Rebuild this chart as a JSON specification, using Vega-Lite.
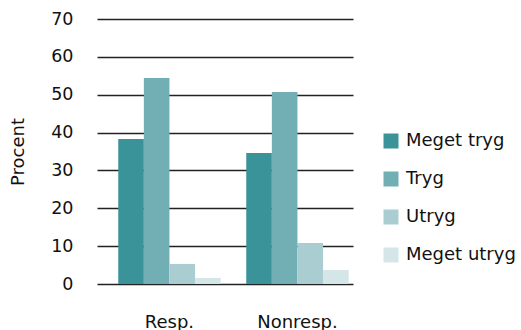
{
  "$schema": "https://vega.github.io/schema/vega-lite/v6.json",
  "width": 256,
  "height": 265,
  "autosize": {"type": "none"},
  "padding": {"left": 97, "top": 19, "right": 168, "bottom": 46},
  "background": "white",
  "config": {
    "font": "DejaVu Sans",
    "view": {"stroke": null}
  },
  "data": {
    "values": [
      {"group": "Resp.", "cat": "Meget tryg", "value": 38.3},
      {"group": "Resp.", "cat": "Tryg", "value": 54.4},
      {"group": "Resp.", "cat": "Utryg", "value": 5.3},
      {"group": "Resp.", "cat": "Meget utryg", "value": 1.6},
      {"group": "Nonresp.", "cat": "Meget tryg", "value": 34.6},
      {"group": "Nonresp.", "cat": "Tryg", "value": 50.7},
      {"group": "Nonresp.", "cat": "Utryg", "value": 10.8},
      {"group": "Nonresp.", "cat": "Meget utryg", "value": 3.7}
    ]
  },
  "mark": {"type": "bar"},
  "encoding": {
    "x": {
      "field": "group", "type": "nominal", "sort": ["Resp.", "Nonresp."],
      "scale": {"paddingInner": 0.2, "paddingOuter": 0.1, "align": 0.83},
      "axis": {"title": null, "labelAngle": 0, "domain": false, "ticks": false, "labelPadding": 29, "labelFontSize": 18, "labelColor": "#111", "labelOverlap": false}
    },
    "xOffset": {
      "field": "cat", "type": "nominal", "sort": ["Meget tryg", "Tryg", "Utryg", "Meget utryg"],
      "scale": {"paddingInner": 0, "paddingOuter": 0}
    },
    "y": {
      "field": "value", "type": "quantitative",
      "scale": {"domain": [0, 70]},
      "axis": {"title": "Procent", "values": [0,10,20,30,40,50,60,70], "labelOverlap": false, "domain": false, "ticks": false, "labelPadding": 24, "labelFontSize": 17.5, "labelColor": "#111", "titleFontSize": 18, "titleFontWeight": "normal", "titleColor": "#111", "gridColor": "#222", "gridWidth": 1.5, "gridOpacity": 1, "titleX": -70}
    },
    "color": {
      "field": "cat", "type": "nominal", "sort": ["Meget tryg", "Tryg", "Utryg", "Meget utryg"],
      "scale": {"domain": ["Meget tryg", "Tryg", "Utryg", "Meget utryg"], "range": ["#3A9399", "#72AFB5", "#AACDD1", "#D4E6E7"]},
      "legend": {"title": null, "orient": "none", "legendX": 285, "legendY": 113, "symbolType": "square", "symbolSize": 225, "symbolStrokeWidth": 0, "symbolOpacity": 1, "labelFontSize": 18, "labelColor": "#111", "labelOffset": 6, "rowPadding": 20, "labelLimit": 200}
    }
  }
}
